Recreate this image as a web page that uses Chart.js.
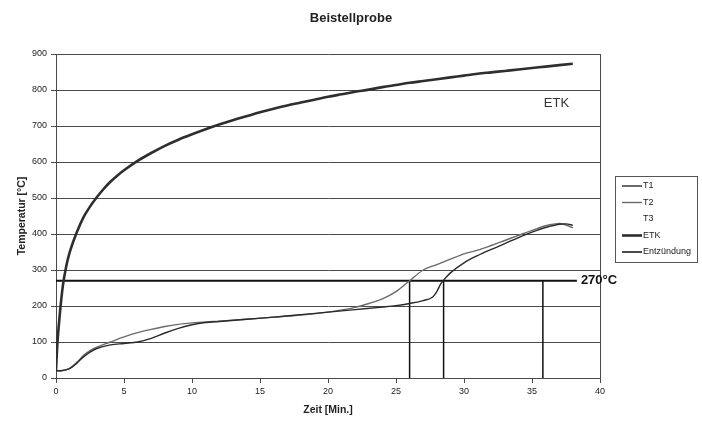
<!DOCTYPE html>
<html>
<head>
<meta charset="utf-8">
<script src="https://cdn.jsdelivr.net/npm/chart.js@4.4.1/dist/chart.umd.min.js"></script>
<style>
  html, body { margin: 0; padding: 0; background: #fff; }
  #wrap { width: 702px; height: 421px; position: relative; }
</style>
</head>
<body>
<div id="wrap"><canvas id="c" width="702" height="421"></canvas></div>
<script>
// Einheitstemperaturkurve (ETK)
const etkTime = [0, 0.05, 0.1, 0.25, 0.5, 0.75, 1, 1.5, 2, 2.5, 3, 3.5, 4, 4.5, 5, 6, 7, 8, 9, 10, 11, 12, 13, 14, 15, 16, 17, 18, 19, 20, 21, 22, 23, 24, 25, 26, 27, 28, 29, 30, 31, 32, 33, 34, 35, 36, 37, 38];
const etkTemp = [20, 60, 95, 165, 255, 310, 348, 402, 445, 476, 502, 525, 545, 562, 577, 603, 625, 645, 662, 677, 691, 704, 716, 727, 738, 748, 757, 765, 773, 781, 788, 795, 801, 808, 814, 820, 825, 830, 835, 840, 845, 849, 853, 857, 861, 865, 869, 873];

// Messstelle T1
const t1Time = [0, 0.5, 1, 1.5, 2, 2.5, 3, 4, 5, 6, 7, 8, 9, 10, 11, 12, 14, 16, 18, 20, 22, 24, 25, 26, 27, 27.7, 28, 28.3, 28.5, 29, 30, 31, 32, 33, 34, 35, 36, 37, 37.5, 38];
const t1Temp = [20, 21, 26, 40, 58, 72, 82, 92, 96, 100, 110, 125, 138, 148, 154, 157, 163, 169, 176, 183, 190, 197, 201, 207, 215, 225, 240, 262, 272, 292, 320, 340, 357, 373, 390, 405, 418, 427, 428, 424];

// Messstelle T2
const t2Time = [0, 0.5, 1, 1.5, 2, 2.5, 3, 4, 5, 6, 7, 8, 9, 10, 11, 12, 14, 16, 18, 20, 22, 23, 24, 25, 26, 27, 28, 29, 30, 31, 32, 33, 34, 35, 36, 36.7, 37, 37.5, 38];
const t2Temp = [20, 21, 27, 42, 62, 76, 86, 100, 114, 126, 135, 143, 149, 153, 156, 158, 163, 169, 175, 183, 196, 207, 220, 240, 270, 300, 315, 330, 345, 355, 368, 382, 396, 410, 423, 428, 429, 425, 417];

// Entzündungszeitpunkte bei Erreichen der Zündtemperatur
const ignitionTimes = [26.0, 28.5, 35.8];
const ignitionTemp = 270;
const ignitionLineEnd = 38.3;

const xTicks = { min: 0, max: 40, step: 5 };
const yTicks = { min: 0, max: 900, step: 100 };

const toPoints = (xs, ys) => xs.map((x, i) => ({ x: x, y: ys[i] }));

const ignitionPoints = [];
ignitionTimes.forEach(t => {
  ignitionPoints.push({ x: t, y: 0 }, { x: t, y: ignitionTemp }, { x: t, y: null });
});

const FONT = "'Liberation Sans', Arial, sans-serif";
const gridCol = '#4a4a4a';

const labelsPlugin = {
  id: 'labels',
  afterDraw(chart) {
    const { ctx, scales: { x, y }, chartArea } = chart;
    ctx.save();
    ctx.fillStyle = '#222';
    ctx.textAlign = 'center';
    ctx.textBaseline = 'middle';
    // Titel
    ctx.font = 'bold 13px ' + FONT;
    ctx.fillText('Beistellprobe', 351, 18);
    // Achsentitel
    ctx.font = 'bold 10.5px ' + FONT;
    ctx.fillText('Zeit [Min.]', (chartArea.left + chartArea.right) / 2, 410);
    ctx.save();
    ctx.translate(22, (chartArea.top + chartArea.bottom) / 2);
    ctx.rotate(-Math.PI / 2);
    ctx.fillText('Temperatur [°C]', 0, 0);
    ctx.restore();
    // Kurvenbeschriftungen
    ctx.fillStyle = '#333';
    ctx.font = '13px ' + FONT;
    ctx.fillText('ETK', x.getPixelForValue(36.8), y.getPixelForValue(762));
    ctx.fillStyle = '#111';
    ctx.font = 'bold 13px ' + FONT;
    ctx.textAlign = 'left';
    ctx.fillText('270°C', x.getPixelForValue(ignitionLineEnd) + 4, y.getPixelForValue(ignitionTemp));

    // Legende
    const lx = 615, ly = 176, lw = 82, lh = 86;
    ctx.strokeStyle = '#555';
    ctx.lineWidth = 1;
    ctx.strokeRect(lx + 0.5, ly + 0.5, lw, lh);
    ctx.font = '9px ' + FONT;
    ctx.fillStyle = '#222';
    const items = chart.data.datasets.filter(d => d.inLegend);
    items.forEach((d, i) => {
      const yy = ly + 10 + i * 16.5;
      if (d.data.length) {
        ctx.strokeStyle = d.borderColor;
        ctx.lineWidth = d.borderWidth;
        ctx.beginPath();
        ctx.moveTo(lx + 7, yy);
        ctx.lineTo(lx + 27, yy);
        ctx.stroke();
      }
      ctx.fillText(d.label, lx + 28, yy);
    });
    ctx.restore();
  }
};

new Chart(document.getElementById('c'), {
  type: 'line',
  data: {
    datasets: [
      { label: 'T1', inLegend: true, data: toPoints(t1Time, t1Temp), borderColor: '#2a2a2a', borderWidth: 1.4, cubicInterpolationMode: 'monotone' },
      { label: 'T2', inLegend: true, data: toPoints(t2Time, t2Temp), borderColor: '#6a6a6a', borderWidth: 1.4, cubicInterpolationMode: 'monotone' },
      { label: 'T3', inLegend: true, data: [], borderColor: '#888', borderWidth: 1 },
      { label: 'ETK', inLegend: true, data: toPoints(etkTime, etkTemp), borderColor: '#2e2e2e', borderWidth: 2.6, cubicInterpolationMode: 'monotone' },
      { label: 'Entzündung', inLegend: true, data: ignitionPoints, borderColor: '#111', borderWidth: 1.5, spanGaps: false },
      { label: '270°C', inLegend: false, data: [{ x: 0, y: ignitionTemp }, { x: ignitionLineEnd, y: ignitionTemp }], borderColor: '#111', borderWidth: 2 }
    ]
  },
  options: {
    responsive: false,
    animation: false,
    parsing: true,
    elements: { point: { radius: 0, hoverRadius: 0 } },
    layout: { padding: { left: 0, right: 102, top: 54, bottom: 0 } },
    plugins: { legend: { display: false }, title: { display: false }, tooltip: { enabled: false } },
    scales: {
      x: {
        type: 'linear',
        min: xTicks.min, max: xTicks.max,
        afterFit(s) { s.height = 43; },
        ticks: { stepSize: xTicks.step, color: '#222', font: { family: FONT, size: 9 }, padding: 3, maxRotation: 0 },
        grid: {
          color: c => (c.tick && c.tick.value === xTicks.max) ? gridCol : 'rgba(0,0,0,0)',
          tickColor: gridCol, tickLength: 5, lineWidth: 1
        },
        border: { color: gridCol, width: 1 }
      },
      y: {
        type: 'linear',
        min: yTicks.min, max: yTicks.max,
        afterFit(s) { s.width = 56; },
        ticks: { stepSize: yTicks.step, color: '#222', font: { family: FONT, size: 9 }, padding: 4 },
        grid: { color: gridCol, tickColor: gridCol, tickLength: 5, lineWidth: 1 },
        border: { color: gridCol, width: 1 }
      }
    }
  },
  plugins: [labelsPlugin]
});
</script>
</body>
</html>
